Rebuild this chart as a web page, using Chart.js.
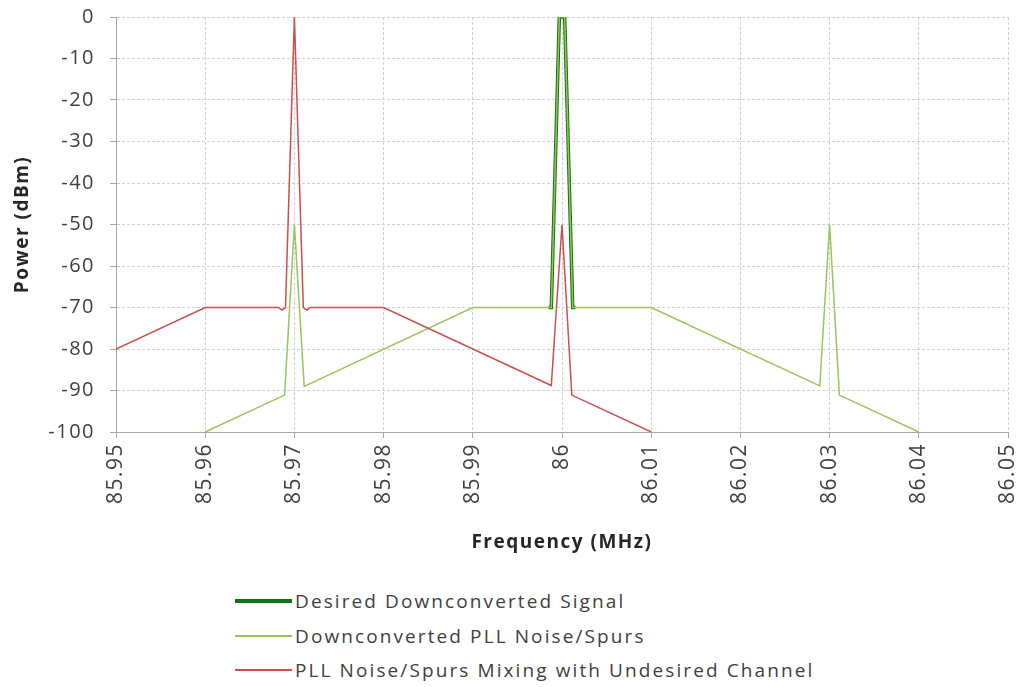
<!DOCTYPE html>
<html>
<head>
<meta charset="utf-8">
<script src="https://cdn.jsdelivr.net/npm/chart.js@4.4.1/dist/chart.umd.min.js"></script>
<style>
  body { margin: 0; background: #fff; }
  #wrap { position: relative; width: 1019px; height: 687px; }
  #box { position: absolute; left: 0; top: 0; width: 1019px; height: 560px; }
  #legend { position: absolute; left: 235px; top: 584px; font-family: "Open Sans"; font-size: 19px; color: #404040; letter-spacing: 2.1px; }
  .row { display: flex; align-items: center; height: 34.5px; white-space: nowrap; }
  .swatch { width: 57px; margin-right: 3px; }
</style>
</head>
<body>
<div id="wrap">
  <div id="box"><canvas id="grafico"></canvas></div>
  <div id="legend"></div>
</div>
<script>
// frequency in MHz, power in dBm
const desiredFreq = [85.9985, 85.9988, 85.9997, 86.0003, 86.0012, 86.0015];
const desiredPower = [-70, -70, 0, 0, -70, -70];

const pllFreq = [85.96, 85.9689, 85.97, 85.9711, 85.99, 85.9988, 85.9997, 86.0003, 86.0012, 86.01, 86.0289, 86.03, 86.0311, 86.04];
const pllPower = [-100, -91.1, -50, -89, -70, -70, 0, 0, -70, -70, -88.9, -50, -91.1, -100];

const mixFreq = [85.95, 85.96, 85.9682, 85.9686, 85.969, 85.97, 85.971, 85.9714, 85.9718, 85.98, 85.9988, 86.0, 86.0011, 86.01];
const mixPower = [-80, -70, -70, -70.6, -70, 0, -70, -70.6, -70, -70, -88.8, -50, -91.1, -100];

const seriesNames = [
  "Desired Downconverted Signal",
  "Downconverted PLL Noise/Spurs",
  "PLL Noise/Spurs Mixing with Undesired Channel",
];
const seriesColors = ["#137313", "#9bc45a", "#c9504d"];
const seriesWidths = [3.5, 1.5, 1.5];

function pts(xs, ys) {
  return xs.map((x, i) => ({ x: x, y: ys[i] }));
}

const fontFam = "'Open Sans', sans-serif";

// the old excel text is spaced a bit wide, canvas can do that too
const spacing = {
  id: "spacing",
  beforeLayout: function (chart) { chart.ctx.letterSpacing = "1.5px"; },
  beforeDraw: function (chart) { chart.ctx.letterSpacing = "1.5px"; },
};

document.addEventListener("DOMContentLoaded", function () {
  const ctx = document.getElementById("grafico").getContext("2d");
  const sets = [pts(desiredFreq, desiredPower), pts(pllFreq, pllPower), pts(mixFreq, mixPower)];

  new Chart(ctx, {
    type: "line",
    data: {
      datasets: sets.map((d, i) => ({
        label: seriesNames[i],
        data: d,
        borderColor: seriesColors[i],
        borderWidth: seriesWidths[i],
        pointRadius: 0,
        tension: 0,
        fill: false,
        order: 3 - i,
      })),
    },
    plugins: [spacing],
    options: {
      responsive: true,
      maintainAspectRatio: false,
      animation: false,
      layout: { padding: { left: 0, right: 11, top: 17, bottom: 0 } },
      plugins: { legend: { display: false }, tooltip: { enabled: false } },
      scales: {
        x: {
          type: "linear",
          min: 85.95,
          max: 86.05,
          afterFit: function (s) {
            s.height = 128;
            s.paddingLeft = 0;
            s.paddingRight = 0;
          },
          ticks: {
            stepSize: 0.01,
            minRotation: 90,
            maxRotation: 90,
            padding: 5,
            color: "#404040",
            font: { family: fontFam, size: 21 },
            callback: function (v) { return String(Number(v.toFixed(2))); },
          },
          grid: { color: "#d0d0d0", tickColor: "#a6a6a6", tickLength: 6 },
          border: { color: "#a6a6a6", dash: [3, 2] },
          title: {
            display: true,
            text: "Frequency (MHz)",
            color: "#262626",
            font: { family: fontFam, size: 19, weight: "bold" },
            padding: { top: 0, bottom: 6 },
          },
        },
        y: {
          min: -100,
          max: 0,
          afterFit: function (s) {
            s.width = 116;
            s.paddingTop = 0;
            s.paddingBottom = 0;
          },
          ticks: {
            stepSize: 10,
            padding: 15,
            color: "#404040",
            font: { family: fontFam, size: 20 },
          },
          grid: { color: "#d0d0d0", tickColor: "#a6a6a6", tickLength: 6 },
          border: { color: "#a6a6a6", dash: [3, 2] },
          title: {
            display: true,
            text: "Power (dBm)",
            color: "#262626",
            font: { family: fontFam, size: 19, weight: "bold" },
            padding: { top: 11, bottom: 0 },
          },
        },
      },
    },
  });

  const leg = document.getElementById("legend");
  seriesNames.forEach(function (name, i) {
    const row = document.createElement("div");
    row.className = "row";
    const sw = document.createElement("div");
    sw.className = "swatch";
    sw.style.height = (i === 0 ? 4 : 2) + "px";
    sw.style.background = seriesColors[i];
    const tx = document.createElement("span");
    tx.textContent = name;
    row.appendChild(sw);
    row.appendChild(tx);
    leg.appendChild(row);
  });
});
</script>
</body>
</html>
